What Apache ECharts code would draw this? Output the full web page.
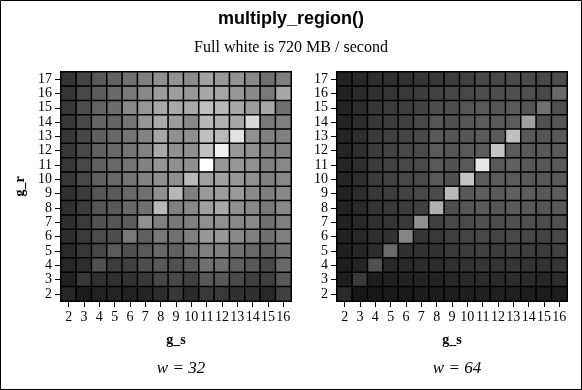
<!DOCTYPE html>
<html><head><meta charset="utf-8">
<script src="https://cdn.jsdelivr.net/npm/echarts@6/dist/echarts.min.js"></script>
<style>html,body{margin:0;padding:0;background:#fff}#c{width:582px;height:390px}</style>
</head><body><div id="c"></div>
<script>
// g_s categories (columns) and g_r categories (rows)
const gS = [2,3,4,5,6,7,8,9,10,11,12,13,14,15,16];
const gR = [2,3,4,5,6,7,8,9,10,11,12,13,14,15,16,17];
const fullWhite = 720; // MB / second

// w = 32 : throughput in MB/s, rows g_r = 17 down to 2, columns g_s = 2..16
const w32 = [
 [150,195,248,277,316,361,407,412,395,452,429,412,384,316,361],
 [150,203,260,294,339,384,440,446,429,474,466,429,390,339,474],
 [155,215,282,305,384,424,474,474,474,542,520,474,440,474,316],
 [155,203,282,282,328,424,480,440,384,520,497,474,610,339,361],
 [155,203,271,294,328,373,474,407,407,542,520,638,407,361,361],
 [155,203,271,294,328,367,474,407,407,542,678,429,407,361,361],
 [155,203,271,294,328,367,424,407,407,720,429,429,407,361,384],
 [155,203,271,294,328,367,407,407,520,452,452,429,407,361,384],
 [136,169,240,254,294,316,407,520,361,435,440,435,390,350,384],
 [136,169,240,248,294,316,520,361,384,452,474,407,384,339,384],
 [130,164,232,237,260,409,361,339,361,407,407,384,384,316,361],
 [130,164,215,220,339,271,339,316,361,429,429,384,361,316,361],
 [119,152,198,254,226,248,294,271,316,361,361,316,294,271,316],
 [107,130,226,169,181,220,254,226,248,316,316,271,248,203,294],
 [ 96,158,136,136,141,158,198,203,181,248,248,209,181,181,248],
 [107, 79, 96,102, 96,102,124,158,119,158,158,136,136,113,181]
];

// w = 64
const w64 = [
 [ 96,113,130,136,141,152,158,169,181,203,203,209,209,203,215],
 [ 96,119,136,150,158,169,186,198,203,220,220,226,220,203,294],
 [102,124,152,164,175,186,220,220,240,248,240,248,240,316,226],
 [102,124,158,169,181,203,240,226,240,254,248,254,452,226,240],
 [104,130,164,181,195,209,248,240,240,254,248,542,248,240,248],
 [104,130,169,186,203,209,254,240,248,254,556,254,248,248,248],
 [104,130,169,186,203,209,248,232,248,649,248,271,248,248,248],
 [104,130,169,186,203,209,248,226,556,254,254,254,248,248,248],
 [ 96,124,158,169,186,203,209,520,248,265,254,271,260,248,260],
 [ 96,119,150,158,169,181,497,220,240,254,240,254,248,240,248],
 [ 96,113,136,150,158,407,181,203,209,226,215,226,220,215,226],
 [ 96,113,130,141,376,150,158,181,192,203,192,203,198,192,203],
 [ 90,107,124,299,136,141,141,158,169,181,169,181,175,169,181],
 [ 85,102,226,113,119,124,124,136,141,152,147,152,147,141,152],
 [ 85,164, 85, 90, 96,102,102,113,119,124,119,124,119,113,124],
 [119, 62, 68, 73, 73, 79, 79, 85, 85, 90, 90, 90, 85, 79, 85]
];

const titleText = 'multiply_region()';
const subText = 'Full white is 720 MB / second';
const panelLabels = ['w = 32', 'w = 64'];

function toData(m) {
  const out = [];
  m.forEach((row, ri) => {
    const r = gR.length - 1 - ri;
    row.forEach((v, ci) => out.push([ci, r, v]));
  });
  return out;
}

const serif = 'Liberation Serif';
function xAx(i) {
  return {type:'category', gridIndex:i, data:gS.map(String), name:'g_s', nameLocation:'middle', nameGap:32,
    nameTextStyle:{fontFamily:serif, fontWeight:'bold', fontSize:14, color:'#000'},
    axisLine:{show:true, lineStyle:{color:'#000', width:1}},
    axisTick:{show:true, alignWithLabel:true, length:6, lineStyle:{color:'#000'}},
    axisLabel:{color:'#000', fontFamily:serif, fontSize:14, interval:0, margin:9}, splitArea:{show:false}};
}
function yAx(i, name) {
  return {type:'category', gridIndex:i, data:gR.map(String), name:name, nameLocation:'middle', nameGap:34, nameRotate:90,
    nameTextStyle:{fontFamily:serif, fontWeight:'bold', fontSize:14, color:'#000'},
    axisLine:{show:true, lineStyle:{color:'#000', width:1}},
    axisTick:{show:true, alignWithLabel:true, length:6, lineStyle:{color:'#000'}},
    axisLabel:{color:'#000', fontFamily:serif, fontSize:14, interval:0, margin:9}, splitArea:{show:false}};
}

const chart = echarts.init(document.getElementById('c'), null, {renderer:'canvas'});
chart.setOption({
  animation:false,
  backgroundColor:'#fff',
  title:[
    {text:titleText, left:'center', top:5, textStyle:{fontFamily:'Liberation Sans', fontWeight:'bold', fontSize:18, color:'#000'}},
    {text:subText, left:'center', top:35, textStyle:{fontFamily:serif, fontWeight:'normal', fontSize:16, color:'#000'}},
    {text:panelLabels[0], left:176, top:355, textAlign:'center', textStyle:{fontFamily:serif, fontStyle:'italic', fontWeight:'normal', fontSize:17, color:'#000'}},
    {text:panelLabels[1], left:452, top:355, textAlign:'center', textStyle:{fontFamily:serif, fontStyle:'italic', fontWeight:'normal', fontSize:17, color:'#000'}}
  ],
  grid:[
    {left:61, top:72, width:230, height:229, containLabel:false},
    {left:337, top:72, width:230, height:229, containLabel:false}
  ],
  xAxis:[xAx(0), xAx(1)],
  yAxis:[yAx(0,'g_r'), yAx(1,'')],
  visualMap:{show:false, min:0, max:fullWhite, seriesIndex:[0,1], dimension:2, inRange:{color:['#000000','#ffffff']}},
  series:[
    {type:'heatmap', xAxisIndex:0, yAxisIndex:0, data:toData(w32), itemStyle:{borderColor:'#000', borderWidth:1.5}, emphasis:{disabled:true}},
    {type:'heatmap', xAxisIndex:1, yAxisIndex:1, data:toData(w64), itemStyle:{borderColor:'#000', borderWidth:1.5}, emphasis:{disabled:true}}
  ],
  graphic:[
    {type:'rect', shape:{x:0.5, y:0.5, width:581, height:389}, style:{fill:null, stroke:'#000', lineWidth:1}, silent:true}
  ]
});
</script>
</body></html>
